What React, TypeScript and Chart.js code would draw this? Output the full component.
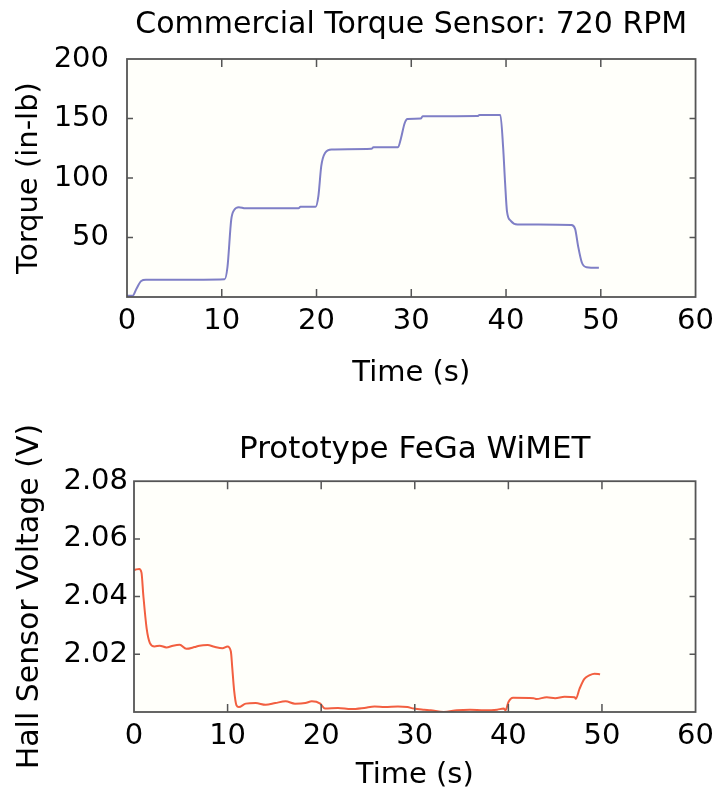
import React, { useEffect, useRef } from 'react';
import { Chart, registerables } from 'chart.js';

Chart.register(...registerables);

// ---- Data ----
const torqueTime = [0, 0.6, 1.0, 1.5, 2.0, 5.0, 10.3, 10.6, 11.0, 11.3, 11.8, 12.5, 18.1, 18.3, 19.9, 20.2, 20.5, 20.9, 21.6, 25.8, 26.0, 28.6, 28.9, 29.3, 29.6, 31.0, 31.2, 37.0, 37.2, 39.4, 39.7, 39.9, 40.1, 40.5, 41.2, 46.9, 47.3, 47.6, 48.0, 48.5, 49.8];
const torqueValues = [1, 1, 7, 13.5, 14.5, 14.5, 15, 25, 65, 73, 75.5, 74.5, 74.5, 75.8, 75.8, 85, 110, 121, 124, 124.5, 125.8, 125.8, 133, 146, 149.6, 150, 151.8, 152, 153, 153, 125, 96, 72, 64, 61, 60.5, 57, 43, 29, 25, 24.5];

const hallTime = [0, 0.2, 0.56, 0.8, 1.0, 1.35, 1.7, 2.2, 2.75, 3.46, 4.17, 4.88, 5.59, 6.46, 6.99, 7.87, 8.58, 9.46, 9.99, 10.35, 10.5, 10.7, 10.95, 11.2, 11.94, 13.0, 14.06, 15.1, 16.2, 17.2, 18.3, 19.0, 19.9, 20.4, 21.8, 23.2, 24.6, 25.7, 26.8, 28.2, 29.2, 29.9, 31.0, 31.7, 33.1, 34.5, 35.9, 37.4, 38.8, 39.5, 39.7, 40.0, 40.5, 42.7, 43.0, 44.1, 45.0, 46.0, 47.1, 47.2, 47.6, 48.1, 48.7, 49.2, 49.8];
const hallValues = [2.0492, 2.0494, 2.0496, 2.0483, 2.0403, 2.029, 2.0239, 2.0227, 2.023, 2.0224, 2.023, 2.0233, 2.0219, 2.0225, 2.023, 2.0232, 2.0226, 2.0221, 2.0227, 2.021, 2.0153, 2.0074, 2.0023, 2.0017, 2.0029, 2.0031, 2.0025, 2.0031, 2.0037, 2.0029, 2.0031, 2.0037, 2.0029, 2.0012, 2.0014, 2.001, 2.0014, 2.0019, 2.0017, 2.0019, 2.0017, 2.0012, 2.0008, 2.0006, 2.0, 2.0006, 2.0008, 2.0006, 2.0008, 2.0012, 2.0006, 2.0034, 2.0049, 2.0048, 2.0045, 2.0051, 2.0048, 2.0053, 2.0051, 2.0046, 2.008, 2.0114, 2.0128, 2.0133, 2.0131];

const timeTicks = [0, 10, 20, 30, 40, 50, 60];
const torqueTicks = [0, 50, 100, 150, 200];
const hallTicks = [2.0, 2.02, 2.04, 2.06, 2.08];

const FONT = "'DejaVu Sans', sans-serif";

const framePlugin = {
  id: 'frame',
  beforeDatasetsDraw(chart: any) {
    const { ctx, chartArea } = chart;
    const { left, top, right, bottom } = chartArea;
    ctx.save();
    ctx.fillStyle = '#fffffa';
    ctx.fillRect(left, top, right - left, bottom - top);
    ctx.restore();
  },
  afterDraw(chart: any) {
    const { ctx, chartArea, scales } = chart;
    const { left, top, right, bottom } = chartArea;
    ctx.save();
    ctx.strokeStyle = '#555555';
    ctx.lineWidth = 1.5;
    ctx.beginPath();
    scales.x.ticks.forEach((t: any) => {
      const px = scales.x.getPixelForValue(t.value);
      if (px <= left + 1 || px >= right - 1) return;
      ctx.moveTo(px, bottom);
      ctx.lineTo(px, bottom - 8);
      ctx.moveTo(px, top);
      ctx.lineTo(px, top + 8);
    });
    scales.y.ticks.forEach((t: any) => {
      const py = scales.y.getPixelForValue(t.value);
      if (py <= top + 1 || py >= bottom - 1) return;
      ctx.moveTo(left, py);
      ctx.lineTo(left + 6, py);
      ctx.moveTo(right, py);
      ctx.lineTo(right - 6, py);
    });
    ctx.stroke();
    ctx.lineWidth = 1.8;
    ctx.strokeRect(left, top, right - left, bottom - top);
    ctx.restore();
  },
};

type Spec = {
  title: string;
  titleSize: number;
  titlePad: { top: number; bottom: number };
  xs: number[];
  ys: number[];
  color: string;
  yMin: number;
  yMax: number;
  yTicks: number[];
  yFmt: (v: number) => string;
  yTitle: string;
  yTitleSize: number;
  yWidth: number;
  yTickPad: number;
  xHeight: number;
  xTitleBottomPad: number;
};

function buildChart(canvas: HTMLCanvasElement, s: Spec) {
  const data = s.xs.map((x, i) => ({ x, y: s.ys[i] }));
  return new Chart(canvas, {
    type: 'line',
    data: {
      datasets: [
        {
          data,
          borderColor: s.color,
          borderWidth: 2,
          pointRadius: 0,
          cubicInterpolationMode: 'monotone',
          fill: false,
        },
      ],
    },
    options: {
      animation: false,
      responsive: false,
      maintainAspectRatio: false,
      layout: { padding: { left: 0, right: 21, top: 0, bottom: 0 } },
      plugins: {
        legend: { display: false },
        tooltip: { enabled: false },
        title: {
          display: true,
          text: s.title,
          color: '#000',
          fullSize: false,
          font: { family: FONT, size: s.titleSize, weight: 'normal' },
          padding: s.titlePad,
        },
      },
      scales: {
        x: {
          type: 'linear',
          min: 0,
          max: 60,
          afterBuildTicks: (sc: any) => {
            sc.ticks = timeTicks.map((v) => ({ value: v }));
          },
          afterFit: (sc: any) => {
            sc.height = s.xHeight;
          },
          grid: { display: false, drawTicks: false },
          border: { display: false },
          ticks: {
            color: '#000',
            font: { family: FONT, size: 29 },
            padding: 7,
            maxRotation: 0,
            autoSkip: false,
            callback: (v: any) => String(v),
          },
          title: {
            display: true,
            text: 'Time (s)',
            color: '#000',
            font: { family: FONT, size: 29 },
            padding: { top: 0, bottom: s.xTitleBottomPad },
          },
        },
        y: {
          type: 'linear',
          min: s.yMin,
          max: s.yMax,
          afterBuildTicks: (sc: any) => {
            sc.ticks = s.yTicks.map((v) => ({ value: v }));
          },
          afterFit: (sc: any) => {
            sc.width = s.yWidth;
          },
          grid: { display: false, drawTicks: false },
          border: { display: false },
          ticks: {
            color: '#000',
            font: { family: FONT, size: 29 },
            padding: s.yTickPad,
            autoSkip: false,
            callback: (v: any) => s.yFmt(Number(v)),
          },
          title: {
            display: true,
            text: s.yTitle,
            color: '#000',
            font: { family: FONT, size: s.yTitleSize },
            padding: { top: 12, bottom: 0 },
          },
        },
      },
    } as any,
    plugins: [framePlugin],
  });
}

export default function App() {
  const topRef = useRef<HTMLCanvasElement>(null);
  const botRef = useRef<HTMLCanvasElement>(null);

  useEffect(() => {
    const c1 = buildChart(topRef.current!, {
      title: 'Commercial Torque Sensor: 720 RPM',
      titleSize: 30,
      titlePad: { top: 7, bottom: 16 },
      xs: torqueTime,
      ys: torqueValues,
      color: '#7f7fc6',
      yMin: 0,
      yMax: 200,
      yTicks: torqueTicks,
      yFmt: (v) => (v === 0 ? '' : String(v)),
      yTitle: 'Torque (in-lb)',
      yTitleSize: 29,
      yWidth: 127,
      yTickPad: 18,
      xHeight: 103,
      xTitleBottomPad: 9,
    });
    const c2 = buildChart(botRef.current!, {
      title: 'Prototype FeGa WiMET',
      titleSize: 31,
      titlePad: { top: 31, bottom: 13 },
      xs: hallTime,
      ys: hallValues,
      color: '#f25f40',
      yMin: 2.0,
      yMax: 2.08,
      yTicks: hallTicks,
      yFmt: (v) => (v < 2.01 ? '' : v.toFixed(2)),
      yTitle: 'Hall Sensor Voltage (V)',
      yTitleSize: 30,
      yWidth: 134,
      yTickPad: 6,
      xHeight: 87,
      xTitleBottomPad: 6,
    });
    return () => {
      c1.destroy();
      c2.destroy();
    };
  }, []);

  return (
    <div style={{ position: 'absolute', left: 0, top: 0, width: 721, height: 799, background: '#ffffff' }}>
      <canvas ref={topRef} width={721} height={400} style={{ display: 'block', width: 721, height: 400 }} />
      <canvas ref={botRef} width={721} height={399} style={{ display: 'block', width: 721, height: 399 }} />
    </div>
  );
}
